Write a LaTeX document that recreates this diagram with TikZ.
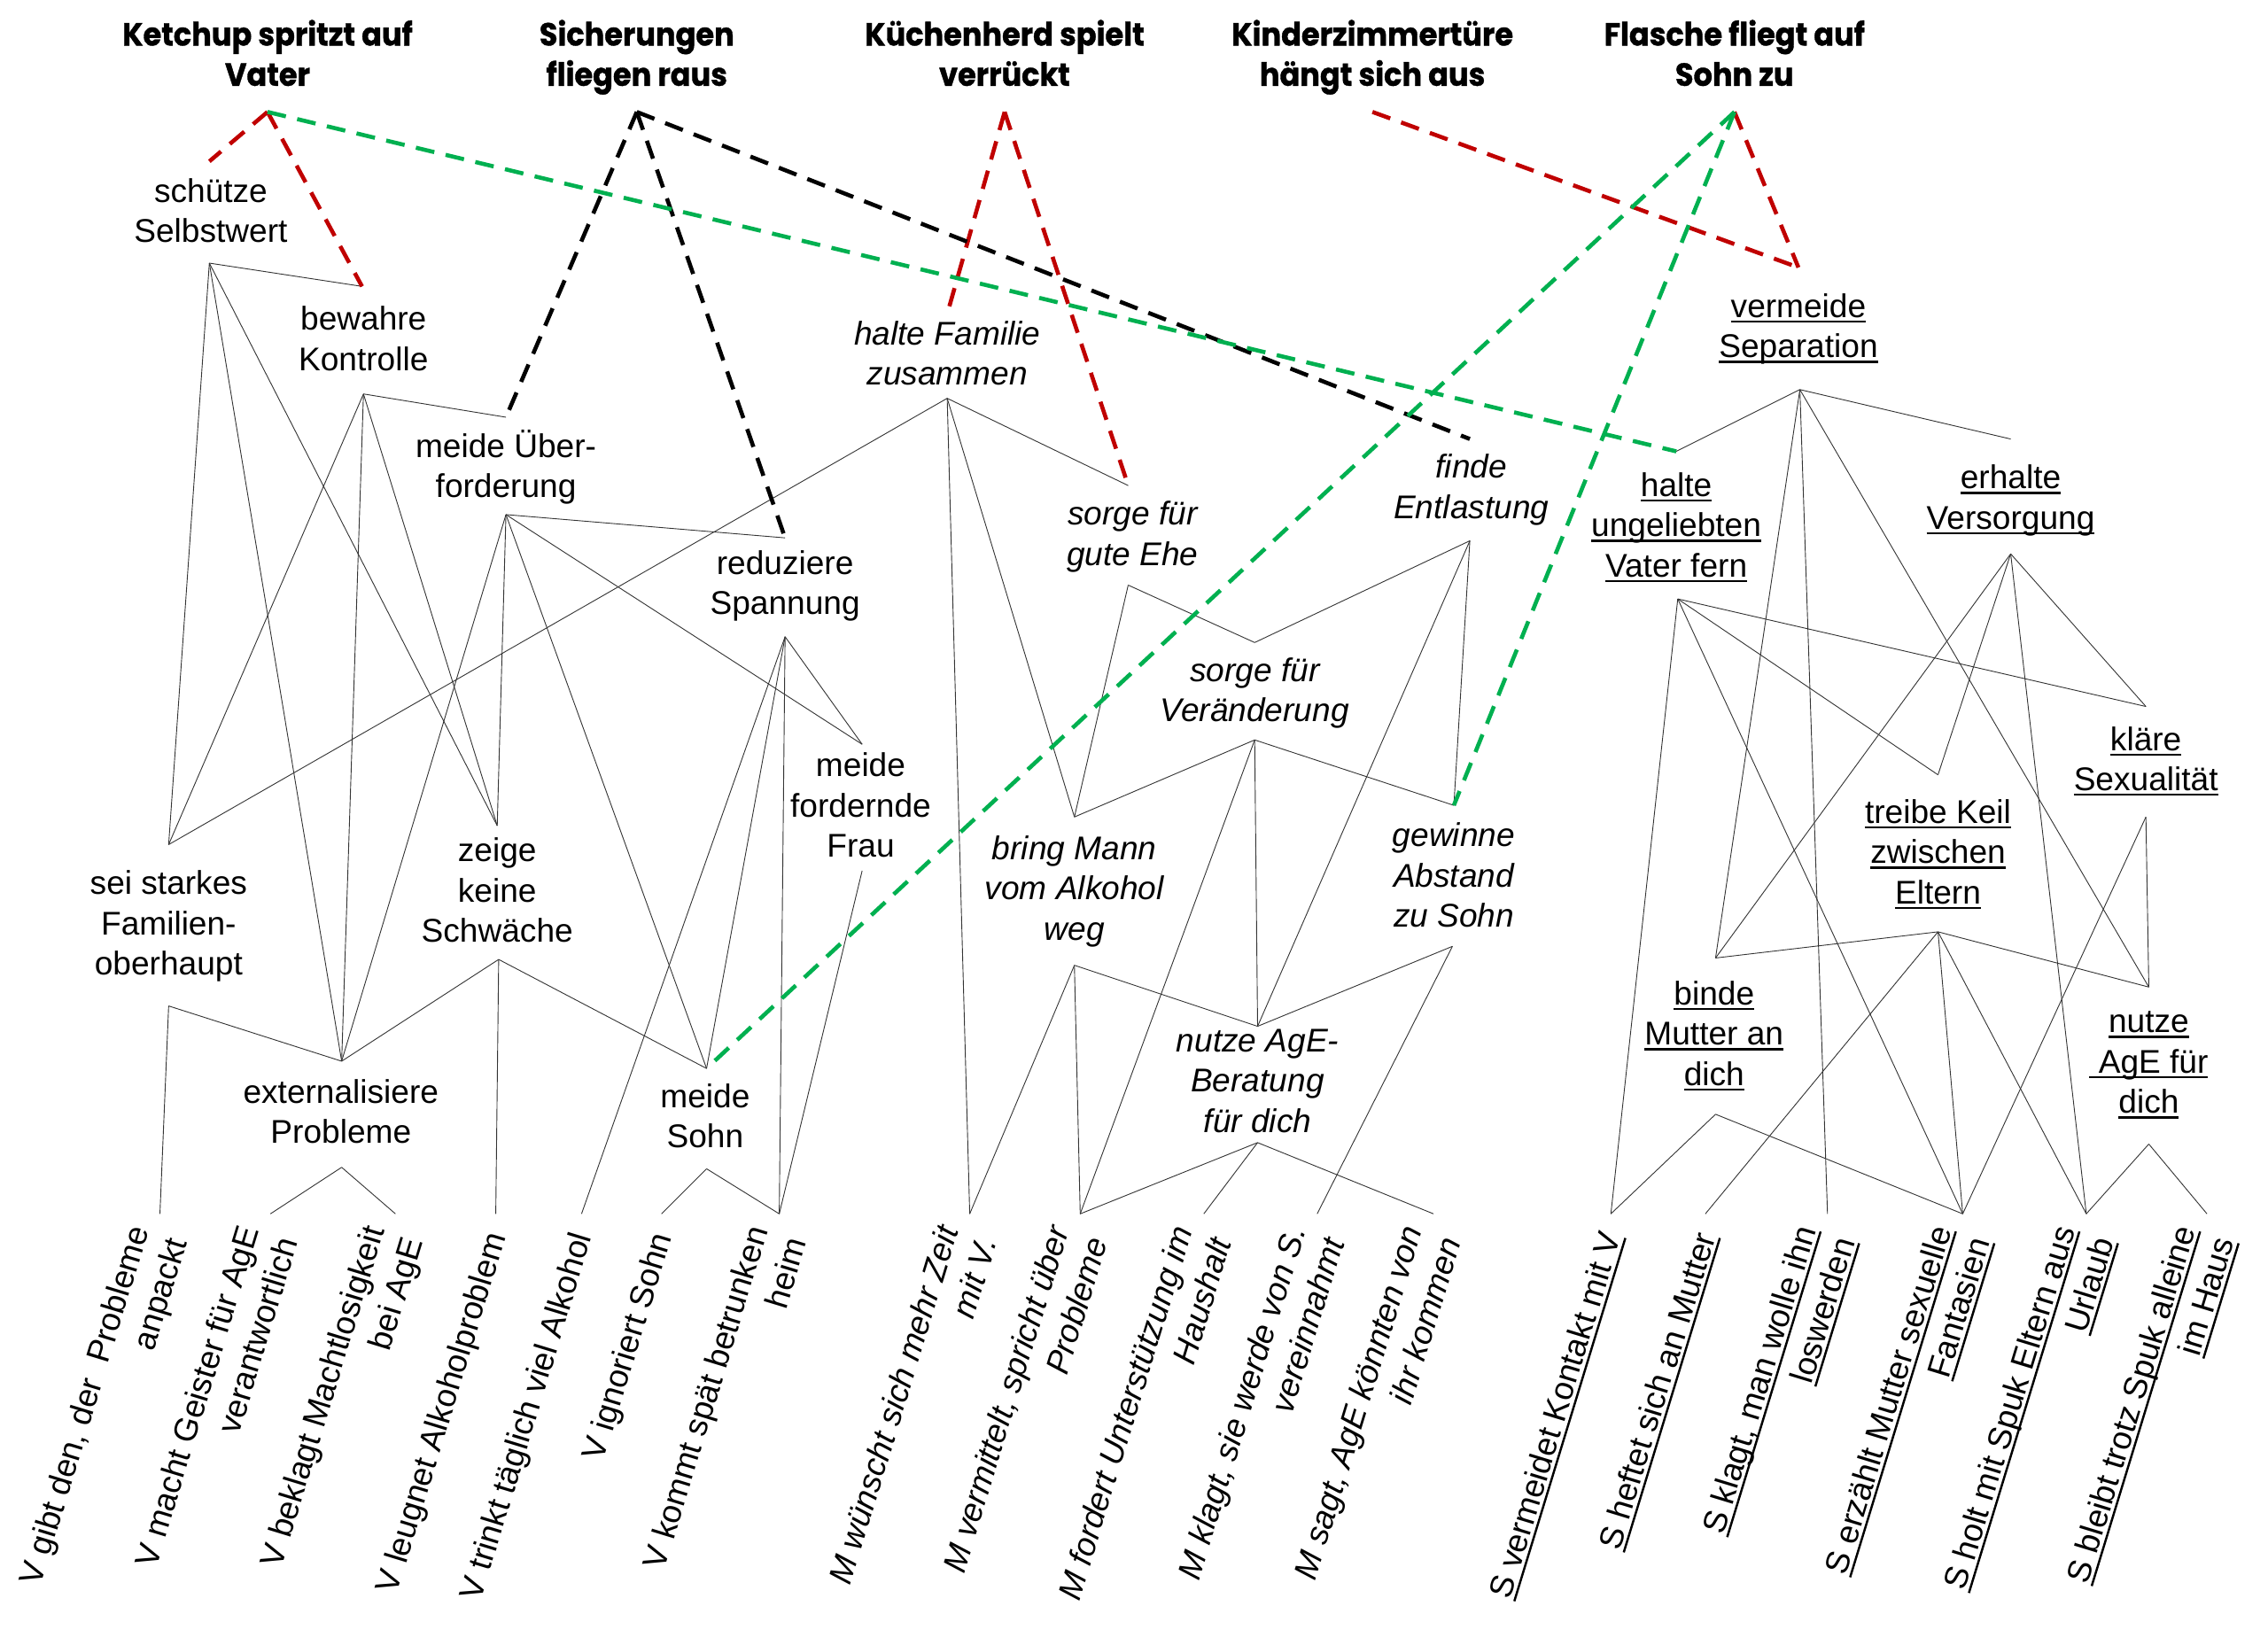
\documentclass[tikz,border=0pt]{standalone}
\usepackage{fontspec}
\setmainfont{Liberation Sans}
\newfontfamily\headfont{Poppins}[FakeStretch=0.93,FakeBold=1]
\newcommand\ulx[1]{\setbox0\hbox{#1}\rlap{\rule[-3.6pt]{\wd0}{1.5pt}}\box0}
\definecolor{dred}{RGB}{192,0,0}
\definecolor{dgreen}{RGB}{0,176,80}
\tikzset{
  tx/.style={align=center, inner sep=0pt, font=\fontsize{22.6}{27.7}\selectfont,
    execute at begin node=\strut, execute at end node=\strut},
  itx/.style={tx, font=\fontsize{22.6}{27.7}\selectfont\itshape},
  hd/.style={tx, font=\headfont\bfseries\fontsize{22}{27.7}\selectfont},
  leaf/.style={tx, align=right, anchor=east, rotate=73},
  ileaf/.style={leaf, font=\fontsize{22.6}{27.7}\selectfont\itshape},
  thinln/.style={draw=black!80, line width=0.55pt},
  dsh/.style={line width=2.8pt, dash pattern=on 13pt off 8pt}
}
\begin{document}
\begin{tikzpicture}[x=1pt,y=-1pt]
\useasboundingbox (0,0) rectangle (1560,1131.6);
\fill[white] (0,0) rectangle (1560,1131.6);
% headings
\node[hd] (hK) at (184,40.5) {Ketchup spritzt auf\\Vater};
\node[hd] (hS) at (438,40.5) {Sicherungen\\fliegen raus};
\node[hd] (hC) at (691,40.5) {Küchenherd spielt\\verrückt};
\node[hd] (hZ) at (944,40.5) {Kinderzimmertüre\\hängt sich aus};
\node[hd] (hF) at (1193,40.5) {Flasche fliegt auf\\Sohn zu};
\coordinate (hKa) at (184,77);
\coordinate (hSa) at (438,77);
\coordinate (hCa) at (691,77);
\coordinate (hZa) at (944,77);
\coordinate (hFa) at (1193,77);
% V group
\node[tx] (n1) at (145,149) {schütze\\Selbstwert};
\node[tx] (n2) at (250,237) {bewahre\\Kontrolle};
\node[tx] (n3) at (348,323) {meide Über-\\forderung};
\node[tx] (n4) at (540,405) {reduziere\\Spannung};
\node[tx] (n5) at (592,558) {meide\\fordernde\\Frau};
\node[tx] (n6) at (116,639) {sei starkes\\Familien-\\oberhaupt};
\node[tx] (n7) at (342,616.5) {zeige\\keine\\Schwäche};
\node[tx] (n8) at (234.5,768.6) {externalisiere\\Probleme};
\node[tx] (n9) at (485,771.6) {meide\\Sohn};
\coordinate (n1T) at (144,111); \coordinate (n1B) at (144,181);
\coordinate (n2T) at (249,197); \coordinate (n2B) at (250,271);
\coordinate (n3T) at (348,287); \coordinate (n3B) at (348,354);
\coordinate (n4T) at (540,370); \coordinate (n4B) at (540,438);
\coordinate (n5T) at (593,512); \coordinate (n5B) at (593,599);
\coordinate (n6T) at (116,581); \coordinate (n6B) at (116,692);
\coordinate (n7T) at (342,568); \coordinate (n7B) at (343,660);
\coordinate (n8T) at (235,730); \coordinate (n8B) at (235,803);
\coordinate (n9T) at (486,735); \coordinate (n9B) at (486,804);
% M group
\node[itx] (m1) at (651.6,247) {halte Familie\\zusammen};
\node[itx] (m2) at (779,371) {sorge für\\gute Ehe};
\node[itx] (m3) at (1012,338.6) {finde\\Entlastung};
\node[itx] (m4) at (863,478.5) {sorge für\\Veränderung};
\node[itx] (m5) at (739,615) {bring Mann\\vom Alkohol\\weg};
\node[itx] (m6) at (1000,606) {gewinne\\Abstand\\zu Sohn};
\node[itx] (m7) at (865,747.5) {nutze AgE-\\Beratung\\für dich};
\coordinate (m1T) at (651.5,216); \coordinate (m1B) at (651.5,274);
\coordinate (m2T) at (776,334); \coordinate (m2B) at (776,402.5);
\coordinate (m3T) at (1011,302); \coordinate (m3B) at (1011,372);
\coordinate (m4T) at (863,442); \coordinate (m4B) at (863,509);
\coordinate (m5T) at (739,562); \coordinate (m5B) at (739,664);
\coordinate (m6T) at (1000,554); \coordinate (m6B) at (999,651);
\coordinate (m7T) at (865,706); \coordinate (m7B) at (865,786);
% S group
\node[tx] (s1) at (1237,228.3) {\ulx{vermeide}\\\ulx{Separation}};
\node[tx] (s2) at (1153,365) {\ulx{halte}\\\ulx{ungeliebten}\\\ulx{Vater fern}};
\node[tx] (s3) at (1383,346) {\ulx{erhalte}\\\ulx{Versorgung}};
\node[tx] (s4) at (1476,526) {\ulx{kläre}\\\ulx{Sexualität}};
\node[tx] (s5) at (1333,590) {\ulx{treibe Keil}\\\ulx{zwischen}\\\ulx{Eltern}};
\node[tx] (s6) at (1179,715) {\ulx{binde}\\\ulx{Mutter an}\\\ulx{dich}};
\node[tx] (s7) at (1478,735) {\ulx{nutze}\\\ulx{\ AgE für}\\\ulx{dich}};
\coordinate (s1T) at (1237,184); \coordinate (s1B) at (1238,268);
\coordinate (s2T) at (1153,310.5); \coordinate (s2B) at (1154,412);
\coordinate (s3T) at (1383,302); \coordinate (s3B) at (1383,381);
\coordinate (s4T) at (1476,486); \coordinate (s4B) at (1476,562);
\coordinate (s5T) at (1333,533); \coordinate (s5B) at (1333,641);
\coordinate (s6T) at (1180,659); \coordinate (s6B) at (1180,766.5);
\coordinate (s7T) at (1478,679); \coordinate (s7B) at (1478,787);
% leaves: connection points
\foreach \n/\x in {lv1/110,lv2/186,lv3/272,lv4/341,lv5/400,lv6/455,lv7/536,
  lm1/667,lm2/743,lm3/828,lm4/906,lm5/986,
  ls1/1108,ls2/1173,ls3/1257,ls4/1350,ls5/1435,ls6/1518}
  \coordinate (\n) at (\x,835);
% leaves: texts
\node[leaf] (Lv1) at (112,849) {V gibt den, der~~Probleme\\anpackt};
\node[leaf] (Lv2) at (188,849) {V macht Geister für AgE\\verantwortlich};
\node[leaf] (Lv3) at (274,849) {V beklagt Machtlosigkeit\\bei AgE};
\node[leaf] (Lv4) at (343,849) {V leugnet Alkoholproblem};
\node[leaf] (Lv5) at (402,849) {V trinkt täglich viel Alkohol};
\node[leaf] (Lv6) at (457,849) {V ignoriert Sohn};
\node[leaf] (Lv7) at (538,849) {V kommt spät betrunken\\heim};
\node[ileaf] (Lm1) at (669,849) {M wünscht sich mehr Zeit\\mit V.};
\node[ileaf] (Lm2) at (745,849) {M vermittelt, spricht über\\Probleme};
\node[ileaf] (Lm3) at (830,849) {M fordert Unterstützung im\\Haushalt};
\node[ileaf] (Lm4) at (908,849) {M klagt, sie werde von S.\\vereinnahmt};
\node[ileaf] (Lm5) at (988,849) {M sagt, AgE könnten von\\ihr kommen};
\node[leaf] (Ls1) at (1110,849) {\ulx{S vermeidet Kontakt mit V}};
\node[leaf] (Ls2) at (1175,849) {\ulx{S heftet sich an Mutter}};
\node[leaf] (Ls3) at (1259,849) {\ulx{S klagt, man wolle ihn}\\\ulx{loswerden}};
\node[leaf] (Ls4) at (1352,849) {\ulx{S erzählt Mutter sexuelle}\\\ulx{Fantasien}};
\node[leaf] (Ls5) at (1437,849) {\ulx{S holt mit Spuk Eltern aus}\\\ulx{Urlaub}};
\node[leaf] (Ls6) at (1520,849) {\ulx{S bleibt trotz Spuk alleine}\\\ulx{im Haus}};
% thin connectors
\foreach \a/\b in {n1B/n2T,n1B/n6T,n1B/n8T,n1B/n7T,
  n2B/n3T,n2B/n6T,n2B/n8T,n2B/n7T,
  n3B/n4T,n3B/n5T,n3B/n8T,n3B/n7T,n3B/n9T,
  n4B/n5T,n4B/n9T,n4B/lv5,n4B/lv7,
  n5B/lv7,n6B/n8T,n6B/lv1,n7B/n8T,n7B/n9T,n7B/lv4,
  n8B/lv2,n8B/lv3,n9B/lv6,n9B/lv7,
  m1B/n6T,m1B/m2T,m1B/m5T,m1B/lm1,
  m2B/m4T,m2B/m5T,m3B/m4T,m3B/m6T,m3B/m7T,
  m4B/m5T,m4B/m6T,m4B/m7T,m4B/lm2,
  m5B/lm1,m5B/m7T,m5B/lm2,m6B/m7T,m6B/lm4,
  m7B/lm2,m7B/lm3,m7B/lm5,
  s1B/s2T,s1B/s3T,s1B/s6T,s1B/ls3,s1B/s7T,
  s2B/s4T,s2B/s5T,s2B/ls1,s2B/ls4,
  s3B/s4T,s3B/s5T,s3B/s6T,s3B/ls5,
  s4B/s7T,s4B/ls4,
  s5B/s6T,s5B/s7T,s5B/ls2,s5B/ls4,s5B/ls5,
  s6B/ls1,s6B/ls4,s7B/ls5,s7B/ls6}
  \draw[thinln] (\a) -- (\b);
% dashed connectors
\draw[dsh, dred] (hKa) -- (n1T);
\draw[dsh, dred] (hKa) -- (n2T);
\draw[dsh, dred] (hCa) -- (m1T);
\draw[dsh, dred] (hCa) -- (m2T);
\draw[dsh, dred] (hZa) -- (s1T);
\draw[dsh, dred] (hFa) -- (s1T);
\draw[dsh, black] (hSa) -- (n3T);
\draw[dsh, black] (hSa) -- (n4T);
\draw[dsh, black] (hSa) -- (m3T);
\draw[dsh, dgreen] (hKa) -- (s2T);
\draw[dsh, dgreen] (hFa) -- (n9T);
\draw[dsh, dgreen] (hFa) -- (m6T);
\end{tikzpicture}
\end{document}
